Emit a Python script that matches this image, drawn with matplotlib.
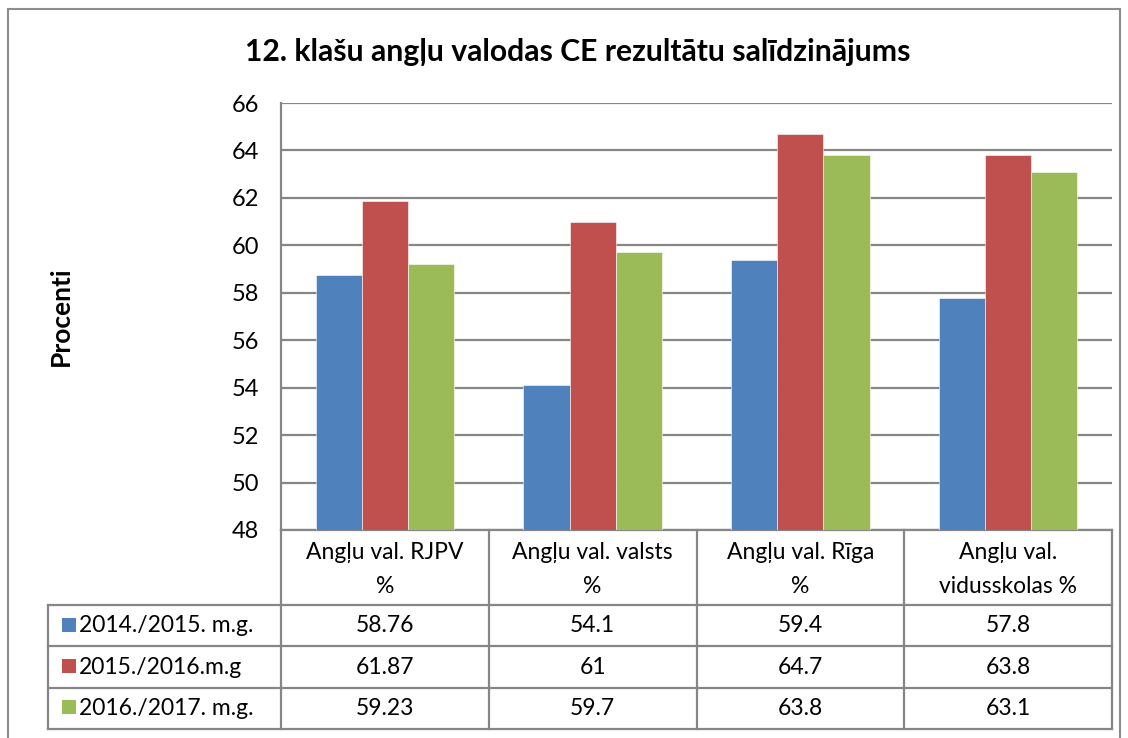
import matplotlib
matplotlib.use("Agg")
import matplotlib.pyplot as plt
from matplotlib.patches import Rectangle
import numpy as np

plt.rcParams['font.family'] = ['Lato', 'DejaVu Sans']

title = "12. klašu angļu valodas CE rezultātu salīdzinājums"
ylabel = "Procenti"
categories = ["Angļu val. RJPV\n%", "Angļu val. valsts\n%", "Angļu val. Rīga\n%", "Angļu val.\nvidusskolas %"]
series_names = ["2014./2015. m.g.", "2015./2016.m.g", "2016./2017. m.g."]
s2014 = [58.76, 54.1, 59.4, 57.8]
s2015 = [61.87, 61, 64.7, 63.8]
s2016 = [59.23, 59.7, 63.8, 63.1]
series = [s2014, s2015, s2016]
cell_text = [["58.76", "54.1", "59.4", "57.8"],
             ["61.87", "61", "64.7", "63.8"],
             ["59.23", "59.7", "63.8", "63.1"]]
colors = ["#4F81BD", "#C0504D", "#9BBB59"]
yticks = [48, 50, 52, 54, 56, 58, 60, 62, 64, 66]

W, H = 1128, 738
fig = plt.figure(figsize=(W / 100, H / 100), dpi=100)

def fx(px):
    return px / W

def fy(py):
    return 1 - py / H

grid_c = "#868686"
border_c = "#8C8C8C"
FS = 16.5

# outer chart border
fig.patches.append(Rectangle((fx(8), fy(745)), fx(1120) - fx(8), fy(9) - fy(745),
                             transform=fig.transFigure, fill=False, edgecolor=border_c, lw=1.5))

L, R, T, B = 281, 1112, 103, 530
ax = fig.add_axes([fx(L), fy(B), fx(R) - fx(L), fy(T) - fy(B)])
n = len(categories)
x = np.arange(n) + 0.5
bw = 1 / 4.5
for i, (vals, c) in enumerate(zip(series, colors)):
    ax.bar(x + (i - 1) * bw, np.array(vals) - 48, bottom=48, width=bw, color=c,
           edgecolor="white", linewidth=0.4, zorder=3)
ax.set_xlim(0, n)
ax.set_ylim(48, 66)
ax.set_yticks(yticks)
ax.set_yticklabels([str(t) for t in yticks], fontsize=17)
ax.tick_params(axis='y', length=0, pad=16)
ax.tick_params(axis='x', length=0, labelbottom=False)
ax.yaxis.grid(True, color=grid_c, lw=1.6, zorder=0)
for s in ["top", "right"]:
    ax.spines[s].set_visible(False)
ax.spines["left"].set_color(grid_c)
ax.spines["left"].set_linewidth(1.6)
ax.spines["bottom"].set_color(grid_c)
ax.spines["bottom"].set_linewidth(1.6)
ax.set_xticks([])

fig.text(fx(578), fy(52), title, ha="center", va="center", fontsize=21.7, fontweight="bold")
fig.text(fx(61), fy(316), ylabel, ha="center", va="center", rotation=90, fontsize=19, fontweight="bold")

# data table
TL, TB = 48, 729
hdr_bot = 605
row_h = (TB - hdr_bot) / 3
lab_w = (L - TL) / ((R - L) / n)
tax = fig.add_axes([fx(TL), fy(TB), fx(R) - fx(TL), fy(B) - fy(TB)])
tax.set_xlim(-lab_w, n)
tax.set_ylim(TB, B)
tax.axis("off")
lk = dict(color=grid_c, lw=1.6, solid_capstyle="projecting", clip_on=False)
# header row
tax.plot([0, 0], [B, TB], **lk)
for j in range(1, n + 1):
    tax.plot([j, j], [B, TB], **lk)
for j, cat in enumerate(categories):
    tax.text(j + 0.5, (B + hdr_bot) / 2 + 2, cat, ha="center", va="center", fontsize=FS,
             linespacing=1.75)
# rows
tax.plot([-lab_w, n], [hdr_bot, hdr_bot], **lk)
tax.plot([-lab_w, -lab_w], [hdr_bot, TB], **lk)
px_per_cat = (R - L) / n
for r in range(3):
    y1 = hdr_bot + (r + 1) * row_h
    tax.plot([-lab_w, n], [y1, y1], **lk)
    yc = hdr_bot + (r + 0.5) * row_h
    for j in range(n):
        tax.text(j + 0.5, yc, cell_text[r][j], ha="center", va="center", fontsize=FS)
    tax.add_patch(Rectangle((-lab_w + 14 / px_per_cat, yc - 8), 14 / px_per_cat, 14,
                            facecolor=colors[r], edgecolor="none", clip_on=False))
    tax.text(-lab_w + 31 / px_per_cat, yc, series_names[r], ha="left", va="center",
             fontsize=FS)

fig.savefig("out.png", dpi=100)
